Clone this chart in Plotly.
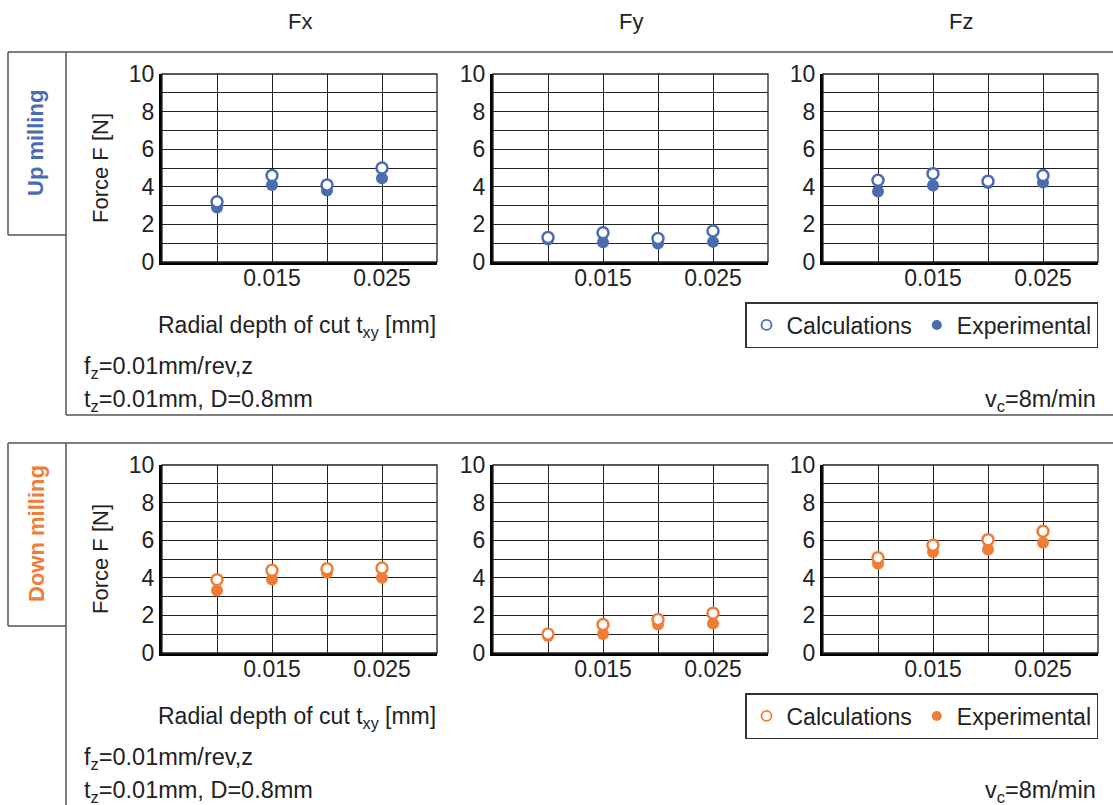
import plotly.graph_objects as go

W, H = 1113, 805
FONT = "Liberation Sans, Arial, Helvetica, sans-serif"
TXT = "#222222"
BLUE = "#4a6cb0"
ORANGE = "#ee7d37"
FRAME = "#555555"
GRID = "#222222"

# Radial depth of cut t_xy [mm]
depth = [0.010, 0.015, 0.020, 0.025]
columns = ["Fx", "Fy", "Fz"]

# Up milling forces [N]
up_fx_calc = [3.2, 4.6, 4.1, 5.0]
up_fx_exp = [2.9, 4.1, 3.8, 4.45]
up_fy_calc = [1.3, 1.55, 1.25, 1.65]
up_fy_exp = [1.2, 1.05, 0.98, 1.07]
up_fz_calc = [4.35, 4.7, 4.3, 4.6]
up_fz_exp = [3.75, 4.07, 4.2, 4.23]

# Down milling forces [N]
down_fx_calc = [3.9, 4.4, 4.48, 4.52]
down_fx_exp = [3.33, 3.91, 4.27, 4.0]
down_fy_calc = [1.01, 1.51, 1.78, 2.12]
down_fy_exp = [0.9, 1.01, 1.51, 1.57]
down_fz_calc = [5.07, 5.73, 6.03, 6.48]
down_fz_exp = [4.75, 5.37, 5.5, 5.87]

y_ticks = [0, 2, 4, 6, 8, 10]
x_ticks = [0.015, 0.025]
x_ticktext = ["0.015", "0.025"]

rows = [
    dict(name="Up milling", color=BLUE, legend="legend",
         calc=[up_fx_calc, up_fy_calc, up_fz_calc],
         exp=[up_fx_exp, up_fy_exp, up_fz_exp]),
    dict(name="Down milling", color=ORANGE, legend="legend2",
         calc=[down_fx_calc, down_fy_calc, down_fz_calc],
         exp=[down_fx_exp, down_fy_exp, down_fz_exp]),
]


def px(x):
    return x / W


def py(y):
    return 1 - y / H


# plot area placement in pixels
col_left = [162, 493, 823]
plot_w = 275
row_top = [74, 465]
plot_h = 188
row_shift = 391

fig = go.Figure()
layout = dict(
    width=W, height=H, margin=dict(l=0, r=0, t=0, b=0, pad=0, autoexpand=False),
    paper_bgcolor="white", plot_bgcolor="white",
    font=dict(family=FONT, size=22, color=TXT),
    showlegend=True,
)
annotations = []
shapes = []

n = 0
for r, row in enumerate(rows):
    for c in range(3):
        n += 1
        xa = "x" if n == 1 else f"x{n}"
        ya = "y" if n == 1 else f"y{n}"
        xkey = "xaxis" if n == 1 else f"xaxis{n}"
        ykey = "yaxis" if n == 1 else f"yaxis{n}"
        x0, x1 = col_left[c], col_left[c] + plot_w
        y0, y1 = row_top[r], row_top[r] + plot_h
        layout[xkey] = dict(
            domain=[px(x0), px(x1)], anchor=ya, range=[0.005, 0.03],
            tickmode="array", tickvals=x_ticks, ticktext=x_ticktext,
            showgrid=True, gridcolor=GRID, gridwidth=1.3,
            minor=dict(dtick=0.005, tick0=0, showgrid=True, gridcolor=GRID, gridwidth=1.3),
            showline=True, linecolor="black", linewidth=3, mirror=False,
            ticks="", zeroline=False, fixedrange=True, automargin=False,
            ticklabelstandoff=-7,
            tickfont=dict(size=23, color=TXT),
        )
        layout[ykey] = dict(
            domain=[py(y1), py(y0)], anchor=xa, range=[0, 10],
            tickmode="array", tickvals=y_ticks,
            showgrid=True, gridcolor=GRID, gridwidth=1.3,
            minor=dict(dtick=1, tick0=0, showgrid=True, gridcolor=GRID, gridwidth=1.3),
            showline=True, linecolor="black", linewidth=3, mirror=False,
            ticks="", zeroline=False, fixedrange=True, automargin=False,
            tickfont=dict(size=23, color=TXT),
        )
        # thin frame on top and right
        shapes.append(dict(type="rect", xref=f"{xa} domain", yref=f"{ya} domain",
                           x0=0, x1=1, y0=0, y1=1,
                           line=dict(color=GRID, width=1.3), layer="above"))
        fig.add_trace(go.Scatter(
            x=depth, y=row["exp"][c], mode="markers", xaxis=xa, yaxis=ya,
            marker=dict(size=12, color=row["color"], line=dict(width=0)),
            showlegend=False, hoverinfo="x+y"))
        fig.add_trace(go.Scatter(
            x=depth, y=row["calc"][c], mode="markers", xaxis=xa, yaxis=ya,
            marker=dict(size=11, color="white", line=dict(width=2.5, color=row["color"])),
            showlegend=False, hoverinfo="x+y"))

    # legend entries for this row
    fig.add_trace(go.Scatter(
        x=[None], y=[None], mode="markers", name="Calculations", legend=row["legend"],
        marker=dict(size=10, color="white", line=dict(width=1.8, color=row["color"]))))
    fig.add_trace(go.Scatter(
        x=[None], y=[None], mode="markers", name="Experimental", legend=row["legend"],
        marker=dict(size=10, color=row["color"])))

    dy = r * row_shift
    layout[row["legend"]] = dict(
        orientation="h", x=px(1098), xanchor="right", y=py(302 + dy), yanchor="top",
        bordercolor="#333333", borderwidth=1.5, bgcolor="white",
        font=dict(size=23, color=TXT, family=FONT), traceorder="normal",
        itemclick=False, itemdoubleclick=False,
    )

    # panel frame
    top = 52 + dy
    shapes.append(dict(type="line", xref="paper", yref="paper",
                       x0=px(8), x1=1, y0=py(top), y1=py(top),
                       line=dict(color=FRAME, width=1.5)))
    shapes.append(dict(type="line", xref="paper", yref="paper",
                       x0=px(66), x1=px(66), y0=py(top),
                       y1=py(415) if r == 0 else 0,
                       line=dict(color=FRAME, width=1.5)))
    shapes.append(dict(type="line", xref="paper", yref="paper",
                       x0=px(8), x1=px(8), y0=py(top), y1=py(top + 183),
                       line=dict(color=FRAME, width=1.5)))
    shapes.append(dict(type="line", xref="paper", yref="paper",
                       x0=px(8), x1=px(66), y0=py(top + 183), y1=py(top + 183),
                       line=dict(color=FRAME, width=1.5)))
    if r == 0:
        shapes.append(dict(type="line", xref="paper", yref="paper",
                           x0=px(66), x1=1, y0=py(415), y1=py(415),
                           line=dict(color=FRAME, width=1.5)))

    # row label
    annotations.append(dict(
        text=f"<b>{row['name']}</b>", x=px(36), y=py(top + 91), xref="paper", yref="paper",
        textangle=-90, showarrow=False, xanchor="center", yanchor="middle",
        font=dict(size=22, color=row["color"], family=FONT)))
    # y-axis title
    annotations.append(dict(
        text="Force F [N]", x=px(100), y=py(row_top[r] + plot_h / 2), xref="paper", yref="paper",
        textangle=-90, showarrow=False, xanchor="center", yanchor="middle",
        font=dict(size=22, color=TXT, family=FONT)))
    # x-axis title
    annotations.append(dict(
        text="Radial depth of cut t<sub>xy</sub> [mm]", x=px(297), y=py(326 + dy),
        xref="paper", yref="paper", showarrow=False, xanchor="center", yanchor="middle",
        font=dict(size=23, color=TXT, family=FONT)))
    # cutting conditions
    annotations.append(dict(
        text="f<sub>z</sub>=0.01mm/rev,z", x=px(82), y=py(367 + dy),
        xref="paper", yref="paper", showarrow=False, xanchor="left", yanchor="middle",
        font=dict(size=23.5, color=TXT, family=FONT)))
    annotations.append(dict(
        text="t<sub>z</sub>=0.01mm, D=0.8mm", x=px(82), y=py(400 + dy),
        xref="paper", yref="paper", showarrow=False, xanchor="left", yanchor="middle",
        font=dict(size=23.5, color=TXT, family=FONT)))
    annotations.append(dict(
        text="v<sub>c</sub>=8m/min", x=px(1098), y=py(400 + dy),
        xref="paper", yref="paper", showarrow=False, xanchor="right", yanchor="middle",
        font=dict(size=23.5, color=TXT, family=FONT)))

# column headers
for c, name in enumerate(columns):
    annotations.append(dict(
        text=name, x=px(col_left[c] + plot_w / 2), y=py(22), xref="paper", yref="paper",
        showarrow=False, xanchor="center", yanchor="middle",
        font=dict(size=22, color=TXT, family=FONT)))

layout["annotations"] = annotations
layout["shapes"] = shapes
fig.update_layout(**layout)

fig.write_html("out.html")
